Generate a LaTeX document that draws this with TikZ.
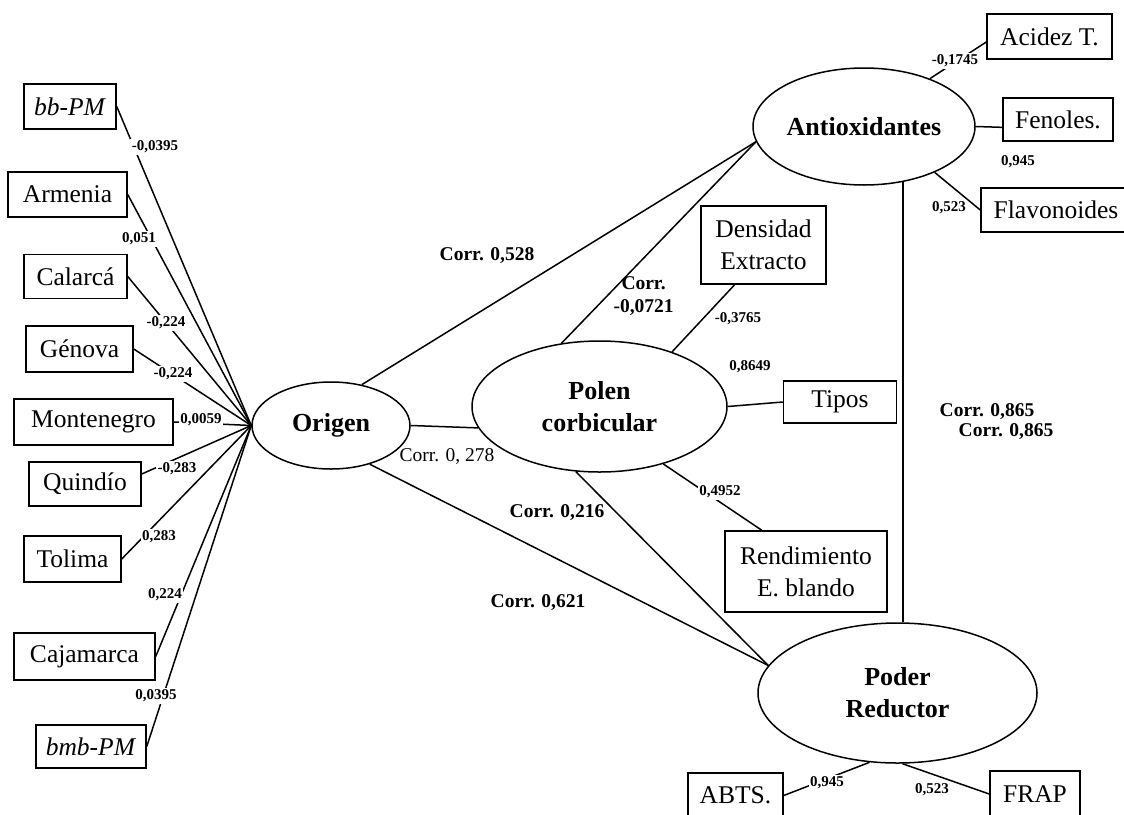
\documentclass[tikz,border=0pt]{standalone}
\usepackage{fontspec}
\setmainfont{Liberation Serif}
\usepackage{tikz}
\usetikzlibrary{shapes.geometric}

\begin{document}
\begin{tikzpicture}[x=1pt,y=1pt,yscale=-1,xscale=1,line width=1.5pt,
  var/.style={draw,rectangle,inner sep=0pt,align=center,font=\fontsize{25.5}{32}\selectfont},
  lat/.style={draw,ellipse,inner sep=0pt,align=center,font=\fontsize{26}{32}\selectfont\bfseries},
  load/.style={fill=white,inner sep=1.5pt,font=\fontsize{15}{18}\selectfont\bfseries},
  corr/.style={inner sep=0.75pt,align=left,font=\fontsize{19.5}{23}\selectfont\bfseries}]
\useasboundingbox (0,0) rectangle (1124,814);

%Shape: Ellipse
\node [lat, minimum width=158, minimum height=87] (origen) at (331,425.5) {Origen};
%Shape: Ellipse
\node [lat, minimum width=255, minimum height=131] (polen) at (599.5,406.5) {Polen\\corbicular};
%Shape: Ellipse
\node [lat, minimum width=222, minimum height=117] (antiox) at (864,126.5) {Antioxidantes};
%Shape: Ellipse
\node [lat, minimum width=279, minimum height=140] (poder) at (897.5,693) {Poder\\Reductor};

% Text Node
\node [var, minimum width=92, minimum height=45] (bbpm) at (70,106.5) {\textit{bb-PM}};
% Text Node
\node [var, minimum width=119, minimum height=45] (armenia) at (67.5,194.5) {Armenia};
% Text Node
\node [var, minimum width=103, minimum height=44] (calarca) at (75.5,276.5) {Calarcá};
% Text Node
\node [var, minimum width=107, minimum height=46] (genova) at (79.5,349) {Génova};
% Text Node
\node [var, minimum width=159, minimum height=46] (montenegro) at (93.5,422) {Montenegro};
% Text Node
\node [var, minimum width=112, minimum height=44] (quindio) at (85,484) {Quindío};
% Text Node
\node [var, minimum width=97, minimum height=46] (tolima) at (72.5,559) {Tolima};
% Text Node
\node [var, minimum width=141, minimum height=47] (cajamarca) at (84.5,656.5) {Cajamarca};
% Text Node
\node [var, minimum width=110, minimum height=43] (bmbpm) at (91,746.5) {\textit{bmb-PM}};

% Text Node
\node [var, minimum width=125, minimum height=45] (acidez) at (1049.5,36.5) {Acidez T.};
% Text Node
\node [var, minimum width=110, minimum height=43] (fenoles) at (1058,119.5) {Fenoles.};
% Text Node
\node [var, minimum width=150, minimum height=44] (flavo) at (1056,210) {Flavonoides};
% Text Node
\node [var, minimum width=125, minimum height=78] (densidad) at (763.5,245) {Densidad\\Extracto};
% Text Node
\node [var, minimum width=113, minimum height=42] (tipos) at (840,402) {Tipos};
% Text Node
\node [var, minimum width=162, minimum height=81] (rend) at (806,571.5) {Rendimiento\\E. blando};
% Text Node
\node [var, minimum width=95, minimum height=45] (abts) at (735.5,795.5) {ABTS.};
% Text Node
\node [var, minimum width=90, minimum height=46] (frap) at (1035,794) {FRAP};

%Straight Lines
\draw (bbpm.east) -- (origen.west);
%Straight Lines
\draw (armenia.east) -- (origen.west);
%Straight Lines
\draw (calarca.east) -- (origen.west);
%Straight Lines
\draw (genova.east) -- (origen.west);
%Straight Lines
\draw (montenegro.east) -- (origen.west);
%Straight Lines
\draw (quindio.10) -- (origen.west);
%Straight Lines
\draw (tolima.east) -- (origen.west);
%Straight Lines
\draw (cajamarca.east) -- (origen.west);
%Straight Lines
\draw (bmbpm.east) -- (origen.west);

%Straight Lines
\draw (origen.53) -- (antiox.188);
%Straight Lines
\draw (polen.121) -- (antiox.188);
%Straight Lines
\draw (origen.east) -- (polen.190);
%Straight Lines
\draw (origen.-45) -- (poder.168);
%Straight Lines
\draw (polen.-110) -- (poder.168);
%Straight Lines
\draw (polen.37) -- (densidad.-126);
%Straight Lines
\draw (polen.east) -- (tipos.west);
%Straight Lines
\draw (polen.-42) -- (rend.137);
%Straight Lines
\draw (antiox.-55) -- (antiox.-55 |- poder.north);
%Straight Lines
\draw (antiox.36) -- (acidez.185);
%Straight Lines
\draw (antiox.east) -- (fenoles.188);
%Straight Lines
\draw (antiox.-33) -- (flavo.west);
%Straight Lines
\draw (poder.-112) -- (abts.east);
%Straight Lines
\draw (poder.-86) -- (frap.west);

% Text Node
\node [load] (l1) at (155,147) {-0,0395};
% Text Node
\node [load] (l2) at (139,239) {0,051};
% Text Node
\node [load] (l3) at (166,323) {-0,224};
% Text Node
\node [load] (l4) at (173,374) {-0,224};
% Text Node
\node [load] (l5) at (201,420) {0,0059};
% Text Node
\node [load] (l6) at (177,469) {-0,283};
% Text Node
\node [load] (l7) at (159,537) {0,283};
% Text Node
\node [load] (l8) at (165,595) {0,224};
% Text Node
\node [load] (l9) at (156,696) {0,0395};

% Text Node
\node [load] (la) at (955,61) {-0,1745};
% Text Node
\node [load] (lf) at (1018,162) {0,945};
% Text Node
\node [load] (lv) at (949,208) {0,523};
% Text Node
\node [load] (ld) at (738,319) {-0,3765};
% Text Node
\node [load] (lt) at (750,367) {0,8649};
% Text Node
\node [load] (lr) at (720,492) {0,4952};
% Text Node
\node [load] (lb) at (827,783) {0,945};
% Text Node
\node [load] (lp) at (932,790) {0,523};

% Text Node
\node [corr] (c1) at (487,256) {Corr. 0,528};
% Text Node
\node [corr, anchor=west] (c2) at (612,296) {\hspace*{8pt}Corr.\\-0,0721};
% Text Node
\node [corr, font=\fontsize{19.5}{23}\selectfont] (c3) at (447,457) {Corr. 0, 278};
% Text Node
\node [corr] (c4) at (557,513) {Corr. 0,216};
% Text Node
\node [corr] (c5) at (538,603) {Corr. 0,621};
% Text Node
\node [corr] (c6) at (987,412) {Corr. 0,865};
% Text Node
\node [corr] (c7) at (1006,431.5) {Corr. 0,865};

\end{tikzpicture}
\end{document}
